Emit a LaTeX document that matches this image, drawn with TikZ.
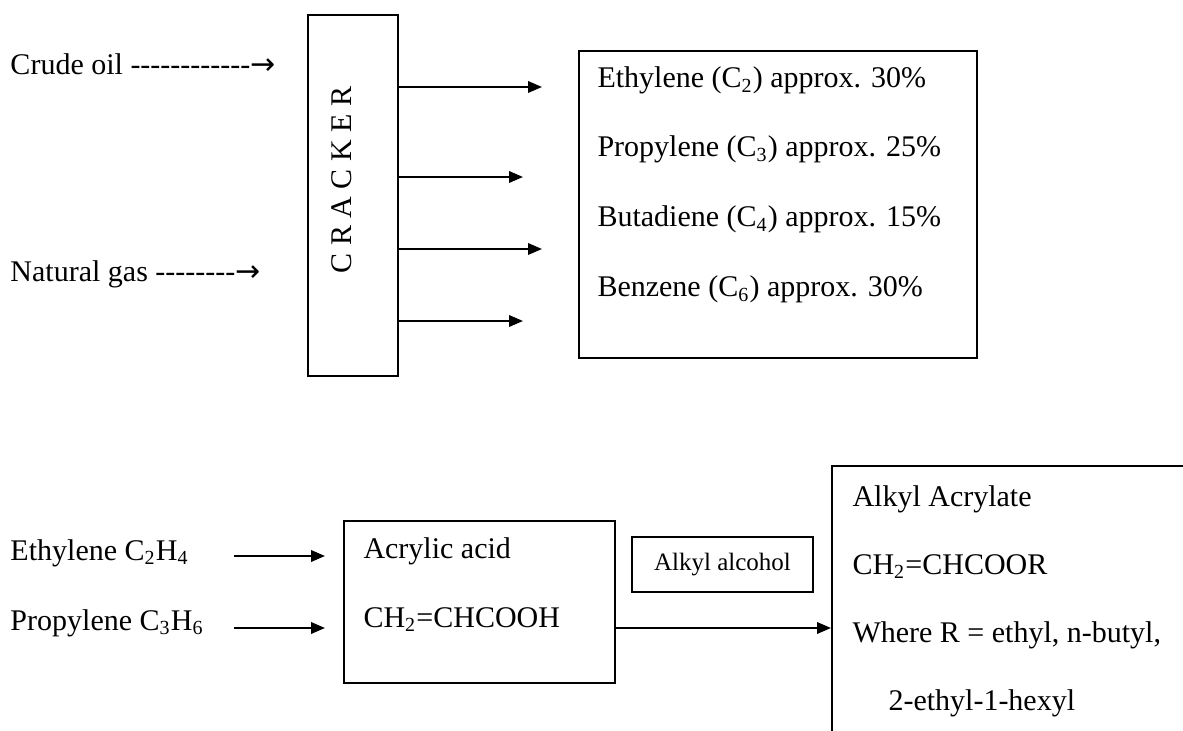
\documentclass[tikz,border=0pt]{standalone}
\usepackage{fontspec}
\setmainfont{Liberation Serif}[Ligatures=TeXOff]
\newfontfamily\arrowfont{DejaVu Sans}
\usetikzlibrary{arrows.meta}

\begin{document}
\begin{tikzpicture}[x=0.4pt,y=-0.4pt,
	font=\fontsize{12}{14.4}\selectfont,
	box/.style={draw, line width=0.8pt, inner sep=0pt, anchor=north west},
	txt/.style={anchor=base west, inner sep=0pt},
	flow/.style={-{Triangle[length=5.6pt,width=4.6pt]}, line width=0.8pt}]

	\useasboundingbox (0,0) rectangle (1183,731);
	\clip (0,0) rectangle (1183,731);

	% cracker and its products
	\node[box, minimum width=36pt, minimum height=144.4pt] (cracker) at (307,14) {};
	\node[rotate=90, inner sep=0pt] (crackerlbl) at (342,180) {C R A C K E R};
	\node[box, minimum width=159.2pt, minimum height=122.8pt] (products) at (578,50) {};

	\node[txt] (crude) at (10,75) {Crude oil ------------{\arrowfont →}};
	\node[txt] (gas) at (10,282) {Natural gas --------{\arrowfont →}};

	\node[txt] (ethyl) at (597,88) {Ethylene (C\textsubscript{2}) approx. 30\%};
	\node[txt] (propyl) at (597,157) {Propylene (C\textsubscript{3}) approx. 25\%};
	\node[txt] (butad) at (597,227) {Butadiene (C\textsubscript{4}) approx. 15\%};
	\node[txt] (benz) at (597,297) {Benzene (C\textsubscript{6}) approx. 30\%};

	\coordinate (o1) at (542,87);
	\coordinate (o2) at (523,177);
	\coordinate (o3) at (542,249);
	\coordinate (o4) at (523,321);
	\foreach \o in {o1,o2,o3,o4}
		\draw[flow] (cracker.east |- \o) -- (\o);

	% acrylic acid route
	\node[box, minimum width=108.4pt, minimum height=64.8pt] (acrylic) at (343,520) {};
	\node[box, minimum width=72.4pt, minimum height=22pt, anchor=center, font=\fontsize{10}{12}\selectfont] (alcohol) at (722.5,564.5) {Alkyl alcohol};
	\node[box, minimum width=160pt, minimum height=120pt] (acrylate) at (831,465) {};

	\node[txt] (ethene) at (10,560) {Ethylene C\textsubscript{2}H\textsubscript{4}};
	\node[txt] (propene) at (10,630) {Propylene C\textsubscript{3}H\textsubscript{6}};

	\node[txt] (acidname) at (363,558) {Acrylic acid};
	\node[txt] (acidform) at (363,627) {CH\textsubscript{2}=CHCOOH};

	\node[txt] (estername) at (852,506) {Alkyl Acrylate};
	\node[txt] (esterform) at (852,574) {CH\textsubscript{2}=CHCOOR};
	\node[txt] (rgroup) at (852,642) {Where R = ethyl, n-butyl,};
	\node[txt] (rgroup2) at (888,710) {2-ethyl-1-hexyl};

	\coordinate (s1) at (234,556);
	\coordinate (e1) at (325,556);
	\coordinate (s2) at (234,628);
	\coordinate (e2) at (325,628);
	\draw[flow] (s1) -- (e1);
	\draw[flow] (s2) -- (e2);
	\draw[flow] (acrylic.east |- e2) -- (acrylate.west |- e2);
\end{tikzpicture}
\end{document}
